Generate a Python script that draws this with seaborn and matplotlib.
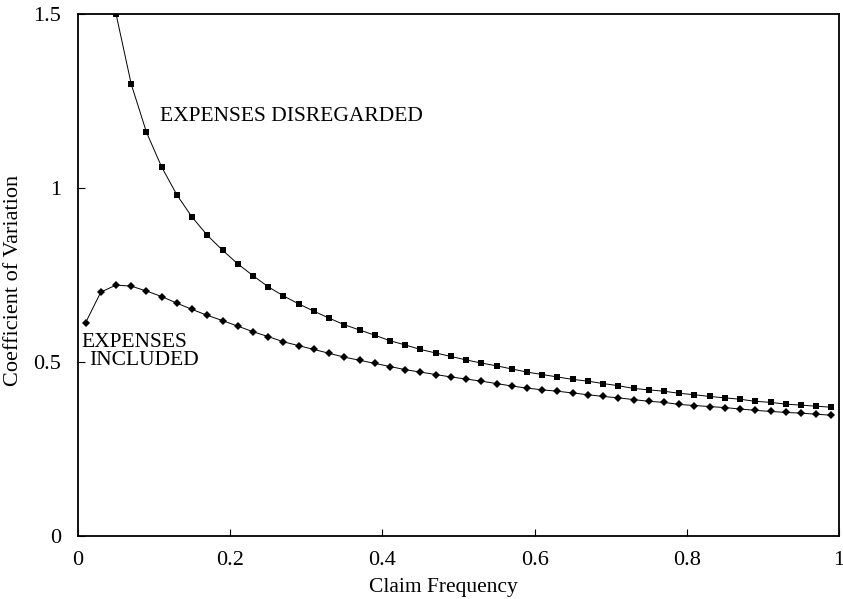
import matplotlib
matplotlib.use("Agg")
import matplotlib.pyplot as plt
import seaborn as sns
import pandas as pd

# Claim frequency grid
freq_included = [0.01, 0.03, 0.05, 0.07, 0.09, 0.11, 0.13, 0.15, 0.17, 0.19,
                 0.21, 0.23, 0.25, 0.27, 0.29, 0.31, 0.33, 0.35, 0.37, 0.39,
                 0.41, 0.43, 0.45, 0.47, 0.49, 0.51, 0.53, 0.55, 0.57, 0.59,
                 0.61, 0.63, 0.65, 0.67, 0.69, 0.71, 0.73, 0.75, 0.77, 0.79,
                 0.81, 0.83, 0.85, 0.87, 0.89, 0.91, 0.93, 0.95, 0.97, 0.99]
freq_disregarded = freq_included[2:]

# Coefficient of variation, expenses included
cv_included = [0.613, 0.701, 0.721, 0.718, 0.704, 0.688, 0.669, 0.651, 0.634, 0.619,
               0.603, 0.587, 0.573, 0.558, 0.547, 0.536, 0.525, 0.514, 0.505, 0.496,
               0.487, 0.478, 0.471, 0.464, 0.457, 0.451, 0.445, 0.438, 0.431, 0.425,
               0.420, 0.416, 0.411, 0.406, 0.401, 0.397, 0.392, 0.387, 0.384, 0.378,
               0.375, 0.372, 0.369, 0.365, 0.361, 0.358, 0.355, 0.353, 0.350, 0.347]

# Coefficient of variation, expenses disregarded
cv_disregarded = [1.500, 1.298, 1.160, 1.060, 0.980, 0.916, 0.864, 0.821,
                  0.782, 0.748, 0.716, 0.690, 0.667, 0.646, 0.626, 0.607, 0.592, 0.577,
                  0.561, 0.549, 0.536, 0.526, 0.516, 0.506, 0.497, 0.489, 0.480, 0.471,
                  0.464, 0.457, 0.450, 0.445, 0.438, 0.432, 0.424, 0.420, 0.416, 0.410,
                  0.406, 0.401, 0.397, 0.393, 0.387, 0.384, 0.379, 0.376, 0.373, 0.370]

x_ticks = [0, 0.2, 0.4, 0.6, 0.8, 1]
x_tick_labels = ["0", "0.2", "0.4", "0.6", "0.8", "1"]
y_ticks = [0, 0.5, 1, 1.5]
y_tick_labels = ["0", "0.5", "1", "1.5"]

sns.set_style("ticks")
plt.rcParams["font.family"] = ["Liberation Serif", "DejaVu Serif"]
plt.rcParams["text.color"] = "black"
plt.rcParams["axes.labelcolor"] = "black"
plt.rcParams["xtick.color"] = "black"
plt.rcParams["ytick.color"] = "black"

fig = plt.figure(figsize=(8.43, 5.99), dpi=100)
ax = fig.add_axes([78 / 843, 63 / 599, 761 / 843, 522 / 599])

df_inc = pd.DataFrame({"freq": freq_included, "cv": cv_included})
df_dis = pd.DataFrame({"freq": freq_disregarded, "cv": cv_disregarded})

sns.lineplot(data=df_dis, x="freq", y="cv", ax=ax, color="black", lw=0.7,
             marker="s", markersize=4, markeredgewidth=0, errorbar=None)
sns.lineplot(data=df_inc, x="freq", y="cv", ax=ax, color="black", lw=0.7,
             marker="D", markersize=4, markeredgewidth=0, errorbar=None)

ax.set_xlim(0, 1)
ax.set_ylim(0, 1.5)
ax.set_xticks(x_ticks)
ax.set_xticklabels(x_tick_labels)
ax.set_yticks(y_ticks)
ax.set_yticklabels(y_tick_labels)
ax.tick_params(direction="in", length=5, width=0.8, labelsize=16,
               color="black", labelcolor="black")
ax.tick_params(axis="x", pad=11)
ax.tick_params(axis="y", pad=12)
for sp in ax.spines.values():
    sp.set_visible(True)
    sp.set_linewidth(1.3)
    sp.set_color("black")

ax.set_xlabel("Claim Frequency", fontsize=15.5, color="black")
ax.xaxis.set_label_coords(0.48, -0.08)
ax.set_ylabel("Coefficient of Variation", fontsize=16, color="black")
ax.yaxis.set_label_coords(-0.072, 0.49)

ax.text(0.108, 1.205, "EXPENSES DISREGARDED", fontsize=15.5, va="center", ha="left")
ax.text(0.005, 0.555, "EXPENSES", fontsize=15.5, va="center", ha="left")
ax.text(0.015, 0.504, "INCLUDED", fontsize=15.5, va="center", ha="left")

fig.savefig("out.png", dpi=100)
